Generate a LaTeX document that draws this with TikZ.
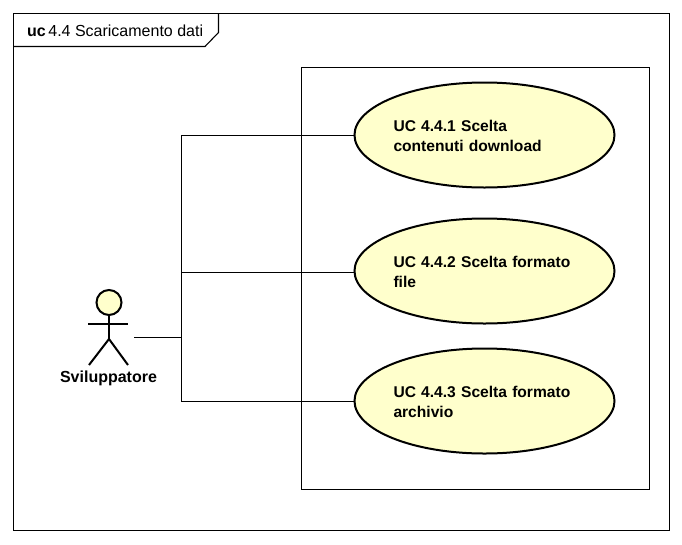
\documentclass[tikz,border=0pt]{standalone}
\usepackage{fontspec}
\setmainfont{Liberation Sans}
\usetikzlibrary{shapes.geometric}
\definecolor{ucfill}{HTML}{FFFFCC}
\newcommand{\firstline}{\rule{0pt}{13.5pt}}
\tikzset{
  line/.style={draw=black,line width=1.1pt},
  usecase/.style={ellipse,draw=black,line width=2pt,fill=ucfill,minimum width=260pt,minimum height=105pt,inner sep=0pt,outer sep=0pt,text width=182pt,align=left,font=\fontsize{15.6}{20}\selectfont\bfseries},
  actorline/.style={draw=black,line width=2pt},
}
\begin{document}
\begin{tikzpicture}[x=1pt,y=-1pt]
\useasboundingbox (0,0) rectangle (682,544);
\fill[white] (0,0) rectangle (682,544);
\draw[line] (13.5,13.5) rectangle (669.5,530.5);
\draw[line] (13.5,46.5) -- (205,46.5) -- (218.5,32.5) -- (218.5,13.5);
\node[anchor=base west,inner sep=0pt,font=\fontsize{16}{18}\selectfont] (title) at (27,36) {\textbf{uc}\hspace{2.5pt}4.4 Scaricamento dati};
\draw[line] (301.5,67.5) rectangle (649.5,489.5);
\node[usecase] (uc1) at (484.5,135) {\firstline UC 4.4.1 Scelta\\contenuti download};
\node[usecase] (uc2) at (484.5,271) {\firstline UC 4.4.2 Scelta formato\\file};
\node[usecase] (uc3) at (484.5,401) {\firstline UC 4.4.3 Scelta formato\\archivio};
\node[circle,draw=black,line width=2pt,fill=ucfill,minimum size=25pt,inner sep=0pt] (head) at (109,302.5) {};
\coordinate (hip) at (109,339);
\coordinate (armL) at (88,323.5);
\coordinate (armR) at (128,323.5);
\coordinate (legL) at (89,365);
\coordinate (legR) at (128,365);
\draw[actorline] (head.south) -- (hip);
\draw[actorline] (armL) -- (armR);
\draw[actorline] (legL) -- (hip) -- (legR);
\node[anchor=base,inner sep=0pt,font=\fontsize{16}{18}\selectfont\bfseries] (actorname) at (108.5,382) {Sviluppatore};
\coordinate (port) at (134,337.5);
\coordinate (junction) at (181.5,337.5);
\draw[line] (port) -- (junction);
\draw[line] (junction) |- ([yshift=-0.5pt]uc1.west);
\draw[line] (junction) |- ([yshift=-1.5pt]uc2.west);
\draw[line] (junction) |- ([yshift=-0.5pt]uc3.west);
\end{tikzpicture}
\end{document}
